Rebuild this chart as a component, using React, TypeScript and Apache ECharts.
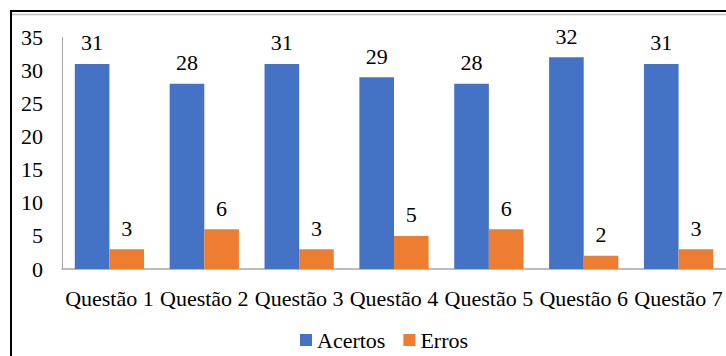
import React, { useEffect, useRef } from "react";
import * as echarts from "echarts";

const categories = ["Questão 1", "Questão 2", "Questão 3", "Questão 4", "Questão 5", "Questão 6", "Questão 7"];
const acertos = [31, 28, 31, 29, 28, 32, 31];
const erros = [3, 6, 3, 5, 6, 2, 3];
const seriesNames = ["Acertos", "Erros"];

const FONT = "Liberation Serif";

export default function App() {
  const ref = useRef<HTMLDivElement>(null);
  useEffect(() => {
    if (!ref.current) return;
    const chart = echarts.init(ref.current, null, { renderer: "svg" });
    const label = {
      show: true,
      position: "top" as const,
      distance: 10,
      fontFamily: FONT,
      fontSize: 22,
      color: "#000",
    };
    chart.setOption({
      animation: false,
      backgroundColor: "#fff",
      textStyle: { fontFamily: FONT },
      grid: { left: 62, right: 0, top: 37.5, bottom: 87, containLabel: false },
      legend: {
        data: seriesNames,
        left: 300,
        top: 329,
        padding: 0,
        itemWidth: 12,
        itemHeight: 12,
        itemGap: 18,
        icon: "rect",
        textStyle: { fontFamily: FONT, fontSize: 22, color: "#000" },
      },
      xAxis: {
        type: "category",
        data: categories,
        axisLine: { show: true, lineStyle: { color: "#A6A6A6", width: 1.5 } },
        axisTick: { show: false },
        axisLabel: { interval: 0, fontFamily: FONT, fontSize: 22, color: "#000", margin: 18 },
      },
      yAxis: {
        type: "value",
        min: 0,
        max: 35,
        interval: 5,
        splitLine: { show: false },
        axisLine: { show: true, lineStyle: { color: "#A6A6A6", width: 1 } },
        axisTick: { show: false },
        axisLabel: { fontFamily: FONT, fontSize: 22, color: "#000", margin: 19 },
      },
      series: [
        {
          name: seriesNames[0],
          type: "bar",
          data: acertos,
          barGap: "0%",
          barCategoryGap: "27%",
          itemStyle: { color: "#4472C4" },
          label,
        },
        {
          name: seriesNames[1],
          type: "bar",
          data: erros,
          barGap: "0%",
          barCategoryGap: "27%",
          itemStyle: { color: "#ED7D31" },
          label,
        },
      ],
      graphic: [
        {
          type: "rect",
          shape: { x: 11, y: 11, width: 800, height: 400 },
          style: { fill: "none", stroke: "#000", lineWidth: 2 },
          z: 100,
        },
        {
          type: "line",
          shape: { x1: 12, y1: 14.5, x2: 726, y2: 14.5 },
          style: { stroke: "#BFBFBF", lineWidth: 1.5 },
          z: 100,
        },
      ],
    });
    return () => chart.dispose();
  }, []);
  return (
    <div
      ref={ref}
      style={{ position: "fixed", left: 0, top: 0, width: 726, height: 356 }}
    />
  );
}
